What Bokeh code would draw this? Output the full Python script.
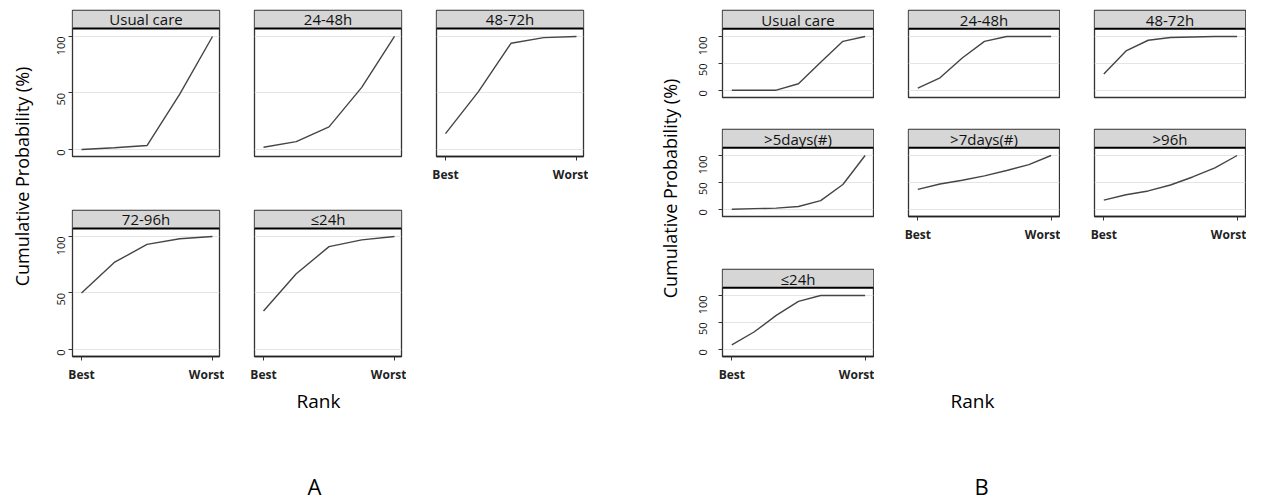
import math
from bokeh.plotting import figure
from bokeh.layouts import row, column
from bokeh.models import Range1d, LinearAxis, FixedTicker, Grid, BoxAnnotation, Span, Label
from bokeh.embed import file_html
from bokeh.resources import INLINE

FONT = "Open Sans"

# ---------------- data ----------------
ranks_a = [1, 2, 3, 4, 5]
ranks_b = [1, 2, 3, 4, 5, 6, 7]
rank_tick_labels = ["Best", "Worst"]

a_names = ["Usual care", "24-48h", "48-72h", "72-96h", "≤24h"]
a_usual = [0, 1.5, 3.5, 49, 100]
a_24_48 = [2, 7, 20, 55, 100]
a_48_72 = [14, 51, 94, 99, 100]
a_72_96 = [50, 77, 93, 98, 100]
a_le_24 = [34, 67, 91, 97, 100]

b_names = ["Usual care", "24-48h", "48-72h", ">5days(#)", ">7days(#)", ">96h", "≤24h"]
b_usual = [0, 0, 0, 12, 52, 91, 100]
b_24_48 = [4, 23, 60, 91, 100, 100, 100]
b_48_72 = [30, 73, 93, 98, 99, 100, 100]
b_5days = [0, 1, 2, 5, 16, 46, 100]
b_7days = [37, 47, 54, 62, 72, 83, 100]
b_96h = [17, 27, 34, 45, 60, 77, 100]
b_le_24 = [8, 32, 63, 89, 100, 100, 100]

y_ticks = [0, 50, 100]


def facet(title, ranks, vals, *, frame_w, frame_h, xr, yr, strip_y, left, right,
          top, bottom, show_y, show_x, y_standoff, strip_font="15px"):
    n = ranks[-1]
    p = figure(width=left + frame_w + right, height=top + frame_h + bottom,
               x_range=Range1d(*xr), y_range=Range1d(*yr),
               x_axis_location=None, y_axis_location=None,
               toolbar_location=None, tools="", output_backend="svg",
               min_border_left=left, min_border_right=right,
               min_border_top=top, min_border_bottom=bottom)
    p.center = []
    p.outline_line_color = "#333333"
    p.outline_line_width = 1.3
    p.background_fill_color = "white"
    p.border_fill_color = "white"
    p.add_layout(Grid(dimension=1, ticker=FixedTicker(ticks=y_ticks),
                      grid_line_color="#e4e4e4", grid_line_width=1.2))
    p.add_layout(BoxAnnotation(bottom=strip_y, fill_color="#d6d6d6", fill_alpha=1,
                               line_color=None))
    p.add_layout(Span(location=strip_y, dimension="width", line_color="black",
                      line_width=2))
    p.add_layout(Label(x=(xr[0] + xr[1]) / 2, y=(strip_y + yr[1]) / 2, text=title,
                       text_align="center", text_baseline="middle",
                       text_font=FONT, text_font_size=strip_font, text_color="#111"))
    p.line(ranks, vals, line_color="#454545", line_width=1.4)
    if show_y:
        ya = LinearAxis(ticker=FixedTicker(ticks=y_ticks),
                        major_label_orientation=math.pi / 2,
                        major_label_standoff=y_standoff,
                        major_tick_out=4, major_tick_in=0,
                        major_tick_line_color="#333333",
                        minor_tick_line_color=None,
                        axis_line_color="#333333",
                        major_label_text_font=FONT,
                        major_label_text_font_size="11px",
                        major_label_text_color="#111")
        p.add_layout(ya, "left")
    if show_x:
        xa = LinearAxis(ticker=FixedTicker(ticks=[1, n]),
                        major_label_overrides={1: rank_tick_labels[0], n: rank_tick_labels[1]},
                        major_label_standoff=5,
                        major_tick_out=4, major_tick_in=0,
                        major_tick_line_color="#333333",
                        minor_tick_line_color=None,
                        axis_line_color="#222", axis_line_width=1.5,
                        major_label_text_font=FONT,
                        major_label_text_font_size="12px",
                        major_label_text_font_style="bold",
                        major_label_text_color="#222")
        p.add_layout(xa, "below")
    return p


def text_fig(w, h, labels):
    p = figure(width=w, height=h, x_range=Range1d(0, w), y_range=Range1d(0, h),
               x_axis_location=None, y_axis_location=None,
               toolbar_location=None, tools="", output_backend="svg",
               min_border=0)
    p.center = []
    p.outline_line_color = None
    p.background_fill_color = "white"
    p.border_fill_color = "white"
    for (x, y, t, size, ang) in labels:
        p.add_layout(Label(x=x, y=y, text=t, angle=ang, text_align="center",
                           text_baseline="middle", text_font=FONT,
                           text_font_size=size, text_color="#000"))
    return p


# ---------------- panel A ----------------
A = dict(frame_w=147, frame_h=146, xr=(0.725, 5.214), yr=(-6.2, 123.0),
         strip_y=107.1, left=30, right=5, y_standoff=7)
a1 = facet(a_names[0], ranks_a, a_usual, top=10, bottom=52, show_y=True, show_x=False, **A)
a2 = facet(a_names[1], ranks_a, a_24_48, top=10, bottom=52, show_y=False, show_x=False, **A)
a3 = facet(a_names[2], ranks_a, a_48_72, top=10, bottom=52, show_y=False, show_x=True, **A)
a4 = facet(a_names[3], ranks_a, a_72_96, top=2, bottom=32, show_y=True, show_x=True, **A)
a5 = facet(a_names[4], ranks_a, a_le_24, top=2, bottom=32, show_y=False, show_x=True, **A)
grid_a = column(row(a1, a2, a3), row(a4, a5))

# ---------------- panel B ----------------
B = dict(frame_w=151, frame_h=87, xr=(0.5815, 7.378), yr=(-13.6, 148.4),
         strip_y=114.3, left=34, right=1, y_standoff=15)
b1 = facet(b_names[0], ranks_b, b_usual, top=10, bottom=30, show_y=True, show_x=False, **B)
b2 = facet(b_names[1], ranks_b, b_24_48, top=10, bottom=30, show_y=False, show_x=False, **B)
b3 = facet(b_names[2], ranks_b, b_48_72, top=10, bottom=30, show_y=False, show_x=False, **B)
b4 = facet(b_names[3], ranks_b, b_5days, top=2, bottom=51, show_y=True, show_x=False, **B)
b5 = facet(b_names[4], ranks_b, b_7days, top=2, bottom=51, show_y=False, show_x=True, **B)
b6 = facet(b_names[5], ranks_b, b_96h, top=2, bottom=51, show_y=False, show_x=True, **B)
b7 = facet(b_names[6], ranks_b, b_le_24, top=2, bottom=32, show_y=True, show_x=True, **B)
grid_b = column(row(b1, b2, b3), row(b4, b5, b6), row(b7))

ytitle = "Cumulative Probability (%)"
yt_a = text_fig(42, 388, [(21, 388 - 176, ytitle, "18px", math.pi / 2)])
yt_b = text_fig(100, 388, [(81, 388 - 188, ytitle, "18px", math.pi / 2)])

bottom = text_fig(1246, 111, [
    (318, 111 - 12, "Rank", "19px", 0),
    (972, 111 - 12, "Rank", "19px", 0),
    (314, 111 - 97, "A", "22px", 0),
    (981, 111 - 97, "B", "22px", 0),
])

layout = column(row(yt_a, grid_a, yt_b, grid_b), bottom)

open("out.html", "w").write(file_html(layout, INLINE))
